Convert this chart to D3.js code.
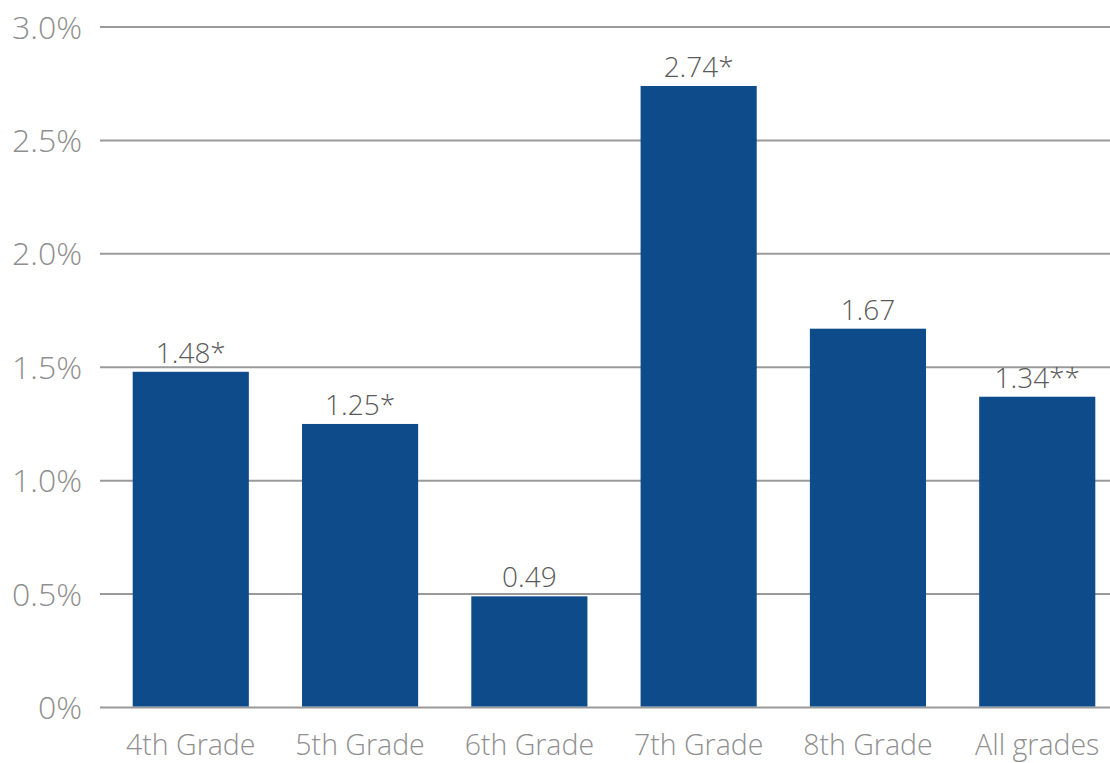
<!DOCTYPE html>
<html><head><meta charset="utf-8">
<script src="https://cdn.jsdelivr.net/npm/d3@7"></script>
<style>
html,body{margin:0;padding:0;background:#fff;}
text{font-family:"Open Sans","Noto Sans",sans-serif;}
</style></head>
<body>
<svg id="chart" width="1110" height="763"></svg>
<script>
const categories = ["4th Grade","5th Grade","6th Grade","7th Grade","8th Grade","All grades"];
const values = [1.48, 1.25, 0.49, 2.74, 1.67, 1.37];
const valueLabels = ["1.48*","1.25*","0.49","2.74*","1.67","1.34**"];
const yTicks = [0, 0.5, 1.0, 1.5, 2.0, 2.5, 3.0];
const yTickLabels = ["0%","0.5%","1.0%","1.5%","2.0%","2.5%","3.0%"];

const svg = d3.select("#chart");
const y = d3.scaleLinear().domain([0, 3]).range([707.5, 27]);
const x = d3.scaleBand().domain(categories).range([100, 1110])
  .paddingInner(0.314).paddingOuter(0.14).align(0.69);

// gridlines
svg.append("g").selectAll("line").data(yTicks).join("line")
  .attr("x1", 100).attr("x2", 1110)
  .attr("y1", d => y(d)).attr("y2", d => y(d))
  .attr("stroke", "#9a9a9a").attr("stroke-width", 2);

// y labels
svg.append("g").selectAll("text").data(yTicks).join("text")
  .attr("x", 82).attr("y", d => y(d)).attr("dy", "0.36em")
  .attr("text-anchor", "end").attr("font-size", 32)
  .attr("fill", "#8f8f8f").attr("font-weight", 300)
  .text((d, i) => yTickLabels[i]);

// bars
svg.append("g").selectAll("rect").data(values).join("rect")
  .attr("x", (d, i) => x(categories[i]))
  .attr("width", x.bandwidth())
  .attr("y", d => y(d))
  .attr("height", d => y(0) - y(d) - 1)
  .attr("fill", "#0d4b8a");

// value labels
svg.append("g").selectAll("text").data(values).join("text")
  .attr("x", (d, i) => x(categories[i]) + x.bandwidth() / 2)
  .attr("y", d => y(d) - 9)
  .attr("text-anchor", "middle").attr("font-size", 28)
  .attr("fill", "#5a5a5a").attr("font-weight", 300)
  .text((d, i) => valueLabels[i]);

// category labels
svg.append("g").selectAll("text").data(categories).join("text")
  .attr("x", d => x(d) + x.bandwidth() / 2)
  .attr("y", 755)
  .attr("text-anchor", "middle").attr("font-size", 28.5)
  .attr("fill", "#8f8f8f").attr("font-weight", 300)
  .text(d => d);
</script>
</body></html>
